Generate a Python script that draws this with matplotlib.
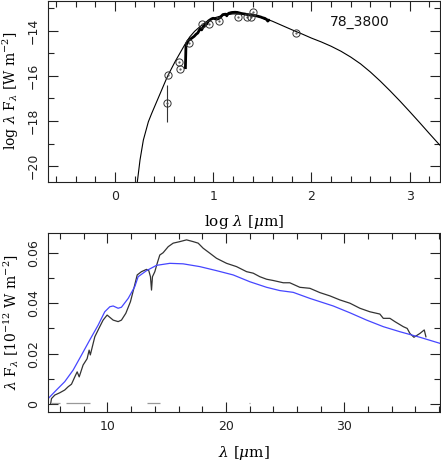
import numpy as np
import matplotlib
matplotlib.use("Agg")
import matplotlib.pyplot as plt
from matplotlib.ticker import MultipleLocator

plt.rcParams['mathtext.fontset'] = 'dejavuserif'

# ---------------- data: top panel (log-log SED) ----------------
model_loglam = [0.227, 0.254, 0.288, 0.339, 0.373, 0.424, 0.475, 0.526, 0.56, 0.61, 0.66,
                0.71, 0.76, 0.81, 0.86, 0.93, 1.00, 1.10, 1.20, 1.30, 1.40, 1.50, 1.60,
                1.70, 1.80, 1.90, 2.00, 2.10, 2.20, 2.30, 2.40, 2.50, 2.60, 2.70,
                2.80, 2.90, 3.00, 3.10, 3.20, 3.306]
model_logF = [-20.68, -19.72, -18.84, -18.03, -17.66, -17.14, -16.62, -16.1, -15.8, -15.38, -15.0,
              -14.62, -14.28, -14.03, -13.84, -13.6, -13.45, -13.32, -13.26, -13.27, -13.32, -13.42,
              -13.58, -13.77, -13.96, -14.14, -14.33, -14.5, -14.69, -14.91, -15.17, -15.47, -15.83,
              -16.23, -16.66, -17.11, -17.58, -18.06, -18.55, -19.06]

phot_loglam = [0.526, 0.542, 0.651, 0.661, 0.753, 0.888, 0.956, 1.058, 1.25, 1.34, 1.38, 1.40, 1.84]
phot_logF = [-17.21, -15.96, -15.4, -15.68, -14.53, -13.72, -13.7, -13.57, -13.38, -13.38, -13.38, -13.19, -14.12]
phot_err_lo = [0.82, 0, 0, 0, 0, 0, 0, 0, 0, 0, 0, 0, 0]
phot_err_hi = [0.81, 0, 0, 0, 0, 0, 0, 0, 0, 0, 0, 0, 0]

source_name = "78_3800"

# ---------------- data: bottom panel (spectrum) ----------------
spec_lam = [5.2, 5.27, 5.55, 5.97, 6.39, 6.68, 6.96, 7.24, 7.44, 7.61, 7.94, 8.28, 8.45, 8.55,
            8.93, 9.35, 9.63, 9.97, 10.2, 10.48, 10.9, 11.18, 11.55, 11.94, 12.23, 12.51,
            12.87, 13.3, 13.49, 13.63, 13.72, 13.8, 14.0, 14.2, 14.42, 14.7, 15.13, 15.55,
            16.11, 16.68, 17.24, 17.66, 18.08, 18.65, 19.21, 20.06, 20.9, 21.75, 22.31,
            22.87, 23.44, 24.0, 24.85, 25.4, 26.25, 27.1, 27.94, 28.79, 29.63, 30.48,
            31.32, 32.17, 33.01, 33.3, 33.86, 34.28, 34.99, 35.32, 35.55, 35.89, 36.39,
            36.76, 36.9]
spec_flux = [0.0002, 0.0022, 0.0036, 0.0045, 0.0056, 0.0069, 0.0079, 0.0108, 0.0128, 0.0108,
             0.0155, 0.018, 0.0214, 0.0195, 0.0267, 0.0307, 0.0333, 0.0353, 0.0344, 0.0333,
             0.0327, 0.0333, 0.036, 0.0406, 0.0459, 0.0512, 0.0525, 0.0534, 0.0529, 0.0505,
             0.0452, 0.0505, 0.0525, 0.0558, 0.0591, 0.060, 0.0624, 0.0638, 0.0644, 0.0651,
             0.0644, 0.0638, 0.0618, 0.0598, 0.0578, 0.0558, 0.0545, 0.0525, 0.0519, 0.0505,
             0.0495, 0.049, 0.0481, 0.0481, 0.0463, 0.0459, 0.0442, 0.0429, 0.0413, 0.040,
             0.038, 0.0366, 0.0357, 0.034, 0.034, 0.0327, 0.0307, 0.030, 0.028, 0.0265,
             0.028, 0.0294, 0.0267]

mod_lam = [4.99, 5.69, 6.39, 7.1, 7.8, 8.5, 9.21, 9.77, 10.2, 10.48, 10.9, 11.18, 11.75,
           12.31, 12.59, 13.3, 14.14, 15.27, 16.39, 17.8, 19.21, 20.62, 22.03, 23.44,
           24.56, 25.69, 27.1, 29.07, 30.48, 31.89, 33.3, 34.7, 36.39, 38.08]
mod_flux = [0.0022, 0.0056, 0.0089, 0.0135, 0.0194, 0.0254, 0.0313, 0.0366, 0.0386, 0.0389,
            0.038, 0.0384, 0.0419, 0.0466, 0.0505, 0.0529, 0.055, 0.0558, 0.0556, 0.0545,
            0.0529, 0.0512, 0.0485, 0.0463, 0.045, 0.0443, 0.0419, 0.0389, 0.0362, 0.0333,
            0.0307, 0.0287, 0.0265, 0.0241]

# gray zero-level segments (start, end wavelength) and level
seg_start = [5.27, 6.53, 13.3, 21.95]
seg_end = [5.97, 8.5, 14.42, 22.05]
seg_level = 0.0005

# ---------------- figure ----------------
fig = plt.figure(figsize=(4.41, 4.63), dpi=100)
ax1 = fig.add_axes([0.1095, 0.6076, 0.8885, 0.3902])
ax2 = fig.add_axes([0.1095, 0.1108, 0.8885, 0.3853])

tickcol = '#222222'
for ax in (ax1, ax2):
    ax.tick_params(which='both', direction='in', top=True, right=True,
                   colors=tickcol, labelsize=9, width=0.8)
    ax.tick_params(which='major', length=7, pad=6)
    ax.tick_params(which='minor', length=4)
    ax.tick_params(axis='y', labelrotation=90)
    for s in ax.spines.values():
        s.set_linewidth(0.8)
        s.set_color(tickcol)

# top panel
ax1.plot(model_loglam, model_logF, color='black', lw=0.8)
ax1.errorbar(phot_loglam, phot_logF, yerr=[phot_err_lo, phot_err_hi], fmt='o',
             mfc='none', mec='#333333', ms=5.2, mew=0.7, ecolor='#333333', elinewidth=0.8,
             capsize=0)
ax1.plot(phot_loglam, phot_logF, '.', color='#555555', ms=1.2)
spec_loglam = np.log10(np.array(spec_lam))
spec_logF = np.log10(np.array(spec_flux) * 1e-12)
ax1.plot(spec_loglam, spec_logF, color='black', lw=2.0, solid_capstyle='butt')
ax1.set_xlim(-0.68, 3.31)
ax1.set_ylim(-20.68, -12.69)
ax1.xaxis.set_major_locator(MultipleLocator(1))
ax1.xaxis.set_minor_locator(MultipleLocator(0.2))
ax1.yaxis.set_major_locator(MultipleLocator(2))
ax1.yaxis.set_minor_locator(MultipleLocator(1))
ax1.text(0.796, 0.884, source_name, transform=ax1.transAxes, ha='center', va='center',
         fontsize=10, color='#111111')
ax1.set_xlabel(r'log $\lambda$ [$\mu$m]', family='DejaVu Serif', fontsize=11, va='top')
ax1.set_ylabel(r'log $\lambda$ F$_\lambda$ [W m$^{-2}$]', family='DejaVu Serif', fontsize=10)
ax1.xaxis.set_label_coords(0.5, -0.175)
ax1.yaxis.set_label_coords(-0.07, 0.5)

# bottom panel
ax2.plot(spec_lam, spec_flux, color='#333333', lw=0.9)
ax2.plot(mod_lam, mod_flux, color='#4646ff', lw=0.9)
ax2.hlines([seg_level] * len(seg_start), seg_start, seg_end, color='#999999', lw=0.9)
ax2.set_xlim(5.0, 38.1)
ax2.set_ylim(-0.003, 0.0677)
ax2.xaxis.set_major_locator(MultipleLocator(10))
ax2.xaxis.set_minor_locator(MultipleLocator(2))
ax2.yaxis.set_major_locator(MultipleLocator(0.02))
ax2.yaxis.set_minor_locator(MultipleLocator(0.01))
ax2.yaxis.set_major_formatter(plt.FuncFormatter(lambda v, p: '0' if abs(v) < 1e-9 else f'{v:.2f}'))
ax2.set_xlabel(r'$\lambda$ [$\mu$m]', family='DejaVu Serif', fontsize=11, va='top')
ax2.set_ylabel(r'$\lambda$ F$_\lambda$ [10$^{-12}$ W m$^{-2}$]', family='DejaVu Serif', fontsize=10)
ax2.xaxis.set_label_coords(0.5, -0.18)
ax2.yaxis.set_label_coords(-0.07, 0.5)

for ax in (ax1, ax2):
    for lab in ax.get_yticklabels():
        lab.set_va('center')

fig.savefig('out.png', dpi=100)
